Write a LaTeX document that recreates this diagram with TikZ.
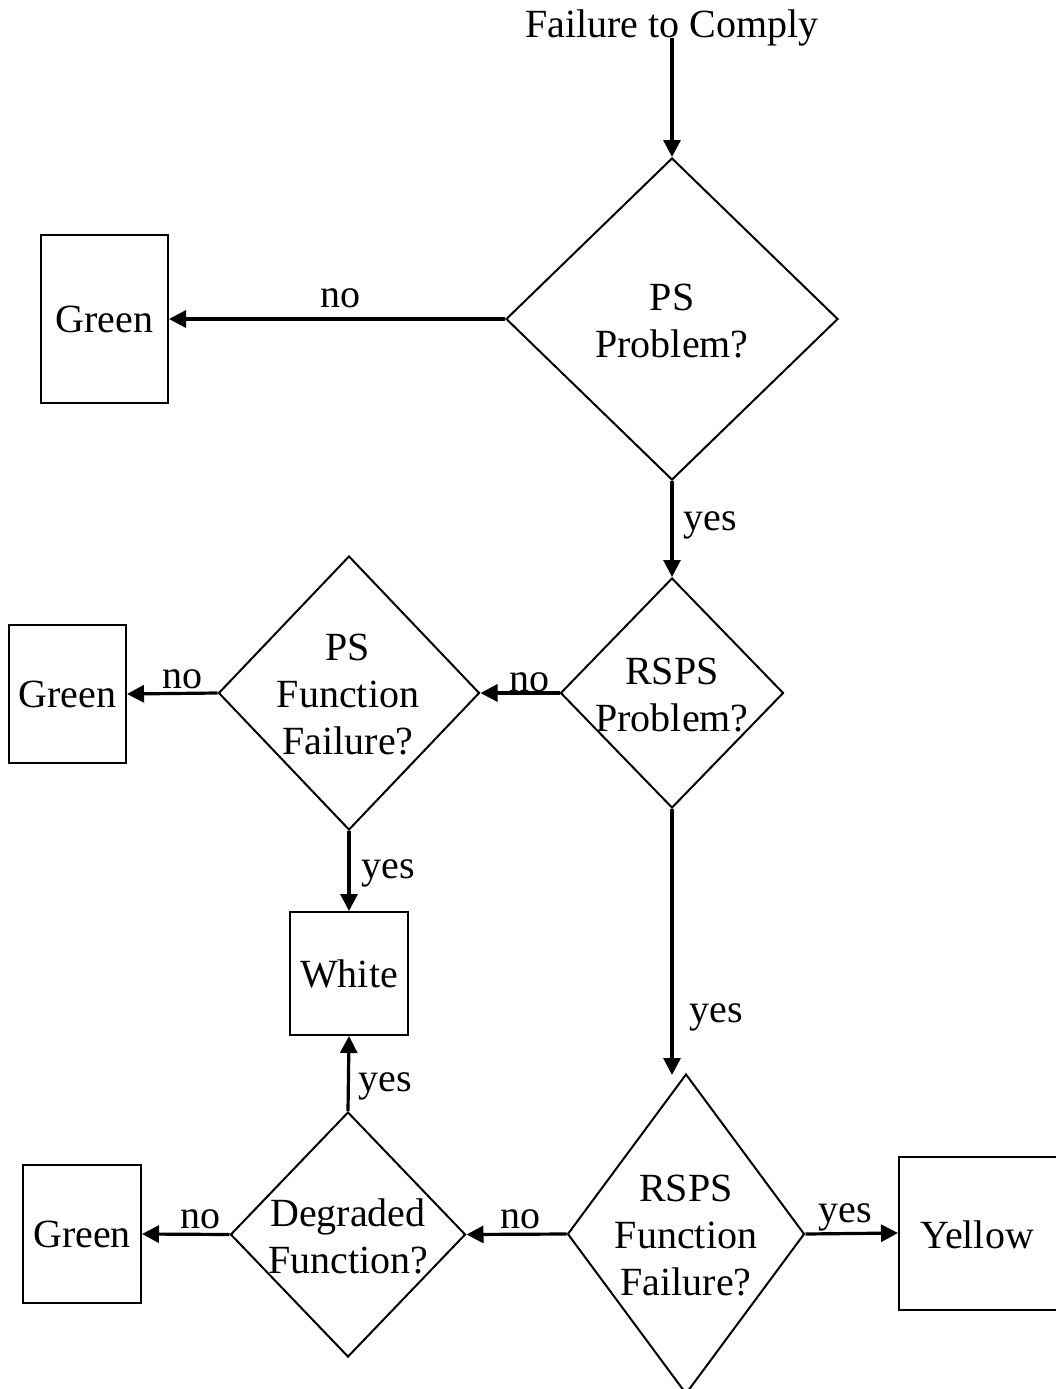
\documentclass[tikz,border=0pt]{standalone}
\usepackage{fontspec}
\setmainfont{Liberation Serif}
\usetikzlibrary{shapes.geometric,arrows.meta}
\begin{document}
\begin{tikzpicture}[x=1pt,y=-1pt,
  every node/.style={font=\fontsize{40}{47}\selectfont},
  dia/.style={diamond, draw, line width=2pt, inner sep=0pt},
  boxn/.style={rectangle, draw, line width=2pt, inner sep=0pt},
  txt/.style={align=center, inner sep=0pt},
  lab/.style={inner sep=0pt, anchor=base},
  arr/.style={line width=3.2pt, -{Triangle[length=17pt,width=17pt]}}]
\useasboundingbox (0,0) rectangle (1056,1389);
\clip (0,0) rectangle (1056,1389);
% title
\node[lab] (t) at (672,38) {Failure to Comply};
% diamonds
\node[dia, minimum width=332pt, minimum height=322pt] (d1) at (672,319) {};
\node[txt] at (672,321) {PS\\Problem?};
\node[dia, minimum width=223pt, minimum height=230pt] (d2) at (672,693) {};
\node[txt] at (672,695) {RSPS\\Problem?};
\node[dia, minimum width=261pt, minimum height=274pt] (d3) at (349,693) {};
\node[txt] at (348,695) {PS\\Function\\Failure?};
\node[dia, minimum width=237pt, minimum height=320pt] (d4) at (686,1234) {};
\node[txt] at (686,1236) {RSPS\\Function\\Failure?};
\node[dia, minimum width=235pt, minimum height=245pt] (d5) at (348,1234.5) {};
\node[txt] at (348,1236) {Degraded\\Function?};
% boxes
\node[boxn, minimum width=127pt, minimum height=168pt] (g1) at (104.5,319) {Green};
\node[boxn, minimum width=117pt, minimum height=138pt] (g2) at (67.5,694) {Green};
\node[boxn, minimum width=118pt, minimum height=123pt] (w) at (349,973.5) {White};
\node[boxn, minimum width=118pt, minimum height=138pt] (g3) at (82,1234) {Green};
\node[boxn, minimum width=162pt, minimum height=153pt] (y) at (980,1233) {};
\node[txt] at (977,1235) {Yellow};
% connectors
\draw[arr] (t.base) -- (d1.north);
\draw[arr] (d1.west) -- (g1.east);
\draw[arr] (d1.south) -- (d2.north);
\draw[arr] (d2.west) -- (d3.east);
\draw[arr] (d3.west) -- (g2.east);
\draw[arr] (d3.south) -- (w.north);
\draw[arr] (d2.south) -- ([yshift=-2pt]d2.south |- d4.north);
\draw[arr] (d4.west) -- (d5.east);
\draw[arr] (d4.east) -- (y.west);
\draw[arr] (d5.north) -- (w.south);
\draw[arr] (d5.west) -- (g3.east);
% labels
\node[lab] at (340,307) {no};
\node[lab] at (710,530) {yes};
\node[lab] at (529,691) {no};
\node[lab] at (182,688) {no};
\node[lab] at (388,878) {yes};
\node[lab] at (716,1022) {yes};
\node[lab] at (385,1091) {yes};
\node[lab] at (200,1228) {no};
\node[lab] at (520,1228) {no};
\node[lab] at (845,1222) {yes};
\end{tikzpicture}
\end{document}
